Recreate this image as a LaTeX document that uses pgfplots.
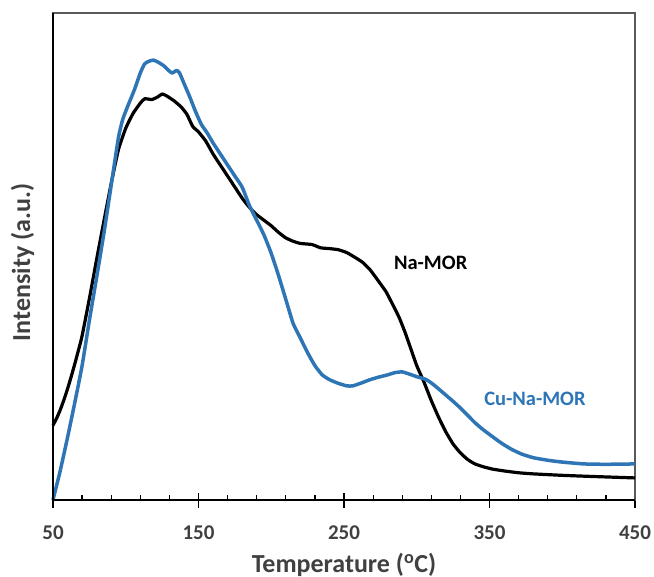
\documentclass[border=0pt]{standalone}
\usepackage{fontspec}
\setmainfont{Carlito}
\usepackage{pgfplots}
\pgfplotsset{compat=1.18}
\definecolor{cublue}{HTML}{2E75B6}
\definecolor{txtgray}{HTML}{404040}
\begin{document}
\begin{tikzpicture}
\useasboundingbox (-53bp,-77bp) rectangle (601bp,500bp);
\begin{axis}[
  at={(0,0)}, anchor=south west,
  scale only axis, width=582bp, height=487bp,
  xmin=50, xmax=450, ymin=0, ymax=1323,
  xtick={50,150,250,350,450}, minor x tick num=4,
  ytick=\empty,
  xtick pos=bottom,
  xtick align=inside,
  major tick length=15bp, minor tick length=5bp,
  major x tick style={black, line width=1.4bp, yshift=-8bp},
  minor x tick style={black, line width=1.2bp},
  axis line style={draw=black!65, line width=1.3bp},
  /pgf/number format/assume math mode=true,
  xticklabel style={font=\fontsize{21bp}{25bp}\selectfont\bfseries, text=txtgray, yshift=-22bp},
  xlabel={Temperature (\textsuperscript{o}C)},
  xlabel style={at={([yshift=-72bp]axis description cs:0.5,0)}, anchor=base, font=\fontsize{26bp}{30bp}\selectfont\bfseries, text=txtgray},
  ylabel={Intensity (a.u.)},
  ylabel style={at={([xshift=-23bp,yshift=-6bp]axis description cs:0,0.5)}, anchor=base, font=\fontsize{26bp}{30bp}\selectfont\bfseries, text=txtgray},
  clip=false,
  after end axis/.code={\draw[black, line width=2bp] (rel axis cs:0,1) -- (rel axis cs:0,0) -- (rel axis cs:1,0);},
]
\addplot[black, line width=3.2bp, line join=round, smooth, tension=0.3] coordinates {
(50,203) (52.5,222) (55,245) (57.5,272) (60,302) (62.5,335) (65,370) (67.5,407) (70,446)
(75,547) (80,654) (85,758) (90,860) (95,952) (100,1010) (105,1050) (110,1078) (113,1090)
(118,1088) (122,1095) (125,1103) (128,1098)
(133,1085) (138,1068) (142,1048) (146,1015) (150,1000) (155,975) (160,940) (165,910)
(170,880) (175,850) (180,820) (185,795) (190,775) (195,760) (200,745) (205,727) (210,712)
(215,703) (220,697) (228,694) (234,685) (240,683) (246,680) (252,672) (258,658) (263,645)
(268,625) (274,593) (279,565) (284,527) (288,495) (292,455) (296,410) (300,365) (305,320)
(310,270) (315,225) (320,185) (325,152) (330,128) (335,110) (340,98) (346,90) (352,84)
(360,79) (370,74) (380,71) (400,67) (420,64) (450,60)
};
\addplot[cublue, line width=3.5bp, line join=round, smooth, tension=0.3] coordinates {
(50,0) (52.5,40) (55,80) (60,170) (65,265) (70,365) (75,488) (80,605) (85,725)
(90,855) (95,985) (98,1035) (102,1076) (106,1115) (110,1160) (113,1185) (116,1192)
(119,1195) (122,1190) (126,1180) (130,1165) (132,1160) (135,1167) (137,1160) (140,1132)
(144,1095) (148,1055) (152,1020) (156,997) (160,970) (165,940) (170,910) (175,880)
(180,850) (185,800) (190,760) (195,720) (200,670) (205,610) (210,545) (215,480) (220,440)
(225,400) (230,365) (235,340) (240,327) (246,317) (252,310) (256,310) (262,318) (268,327)
(274,334) (280,340) (285,346) (290,348) (295,342) (300,335) (306,328) (310,318) (315,302)
(320,285) (325,268) (330,250) (335,230) (340,210) (345,193) (350,178) (358,155) (365,138)
(372,125) (380,115) (390,108) (400,103) (415,98) (430,97) (450,98)
};
\node[anchor=west, font=\fontsize{20.5bp}{24bp}\selectfont\bfseries, text=black] at (axis cs:282,645) {Na-MOR};
\node[anchor=west, font=\fontsize{20.5bp}{24bp}\selectfont\bfseries, text=cublue] at (axis cs:344,276) {Cu-Na-MOR};
\end{axis}
\end{tikzpicture}
\end{document}
